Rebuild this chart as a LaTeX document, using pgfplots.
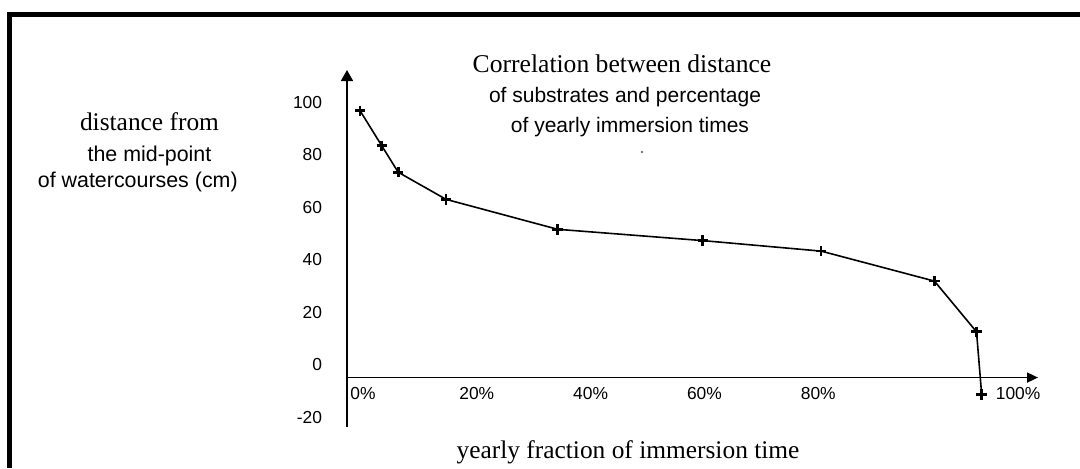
\documentclass[border=0pt]{standalone}
\usepackage{fontspec}
\setmainfont{Liberation Serif}
\newfontfamily\arial{Liberation Sans}
\usepackage{pgfplots}
\pgfplotsset{compat=1.18}
\usetikzlibrary{arrows.meta}
\begin{document}
\begin{tikzpicture}
\useasboundingbox (0,0) rectangle (540pt,234pt);
% frame (left and top edges of the scanned box)
\fill[black] (3.5pt,0pt) rectangle (6pt,228pt);
\fill[black] (3.5pt,225.5pt) rectangle (540pt,228pt);
% titles and labels
\node[anchor=base,inner sep=0pt,font=\fontsize{12.8}{14}\selectfont] at (311pt,198pt) {Correlation between distance};
\node[anchor=base,inner sep=0pt,font=\arial\fontsize{10.5}{12}\selectfont] at (312.5pt,182.75pt) {of substrates and percentage};
\node[anchor=base,inner sep=0pt,font=\arial\fontsize{10.5}{12}\selectfont] at (315pt,167.75pt) {of yearly immersion times};
\fill[black!70] (321pt,158pt) circle (0.6pt);
\node[anchor=base,inner sep=0pt,font=\fontsize{12.7}{14}\selectfont] at (74.75pt,169pt) {distance from};
\node[anchor=base,inner sep=0pt,font=\arial\fontsize{10.7}{12}\selectfont] at (74.75pt,153.5pt) {the mid-point};
\node[anchor=base,inner sep=0pt,font=\arial\fontsize{10.7}{12}\selectfont] at (68.9pt,140.5pt) {of watercourses (cm)};
\node[anchor=base,inner sep=0pt,font=\fontsize{12.7}{14}\selectfont] at (314pt,5pt) {yearly fraction of immersion time};
\begin{axis}[
  at={(173.5pt,20.65pt)}, anchor=south west,
  scale only axis, width=345.5pt, height=178.35pt,
  xmin=-2.8, xmax=118.6, ymin=-23.5, ymax=112.2,
  axis line style={draw=none},
  major tick length=0pt,
  clip=false,
  xtick={0,20,40,60,80}, xticklabels={0\%,20\%,40\%,60\%,80\%},
  extra x ticks={108.71}, extra x tick labels={100\%},
  extra x tick style={xticklabel style={xshift=18.2pt}},
  ytick={-20,0,20,40,60,80,100},
  /pgf/number format/assume math mode=true,
  ticklabel style={font=\arial\fontsize{8.7}{10}\selectfont},
  xticklabel style={anchor=center, yshift=16.7pt},
  yticklabel style={xshift=-8.95pt},
]
\draw[line width=0.85pt, -{Triangle[length=5.5pt,width=6pt]}] (axis cs:-2.8,-23.5) -- (axis cs:-2.8,112.2);
\draw[line width=0.85pt, -{Triangle[length=5.5pt,width=5pt]}] (axis cs:-2.8,-4.8) -- (axis cs:118.6,-4.8);
\addplot[black, line width=0.8pt, mark=+, mark size=2.6pt, mark options={line width=1.35pt}] coordinates {
(-0.5,96.7) (3.3,83.4) (6.2,73.3) (14.6,63.0) (34.2,51.6) (59.7,47.3) (80.5,43.3) (100.4,31.9) (107.8,12.6) (108.7,-11.2)
};
\end{axis}
\end{tikzpicture}
\end{document}
